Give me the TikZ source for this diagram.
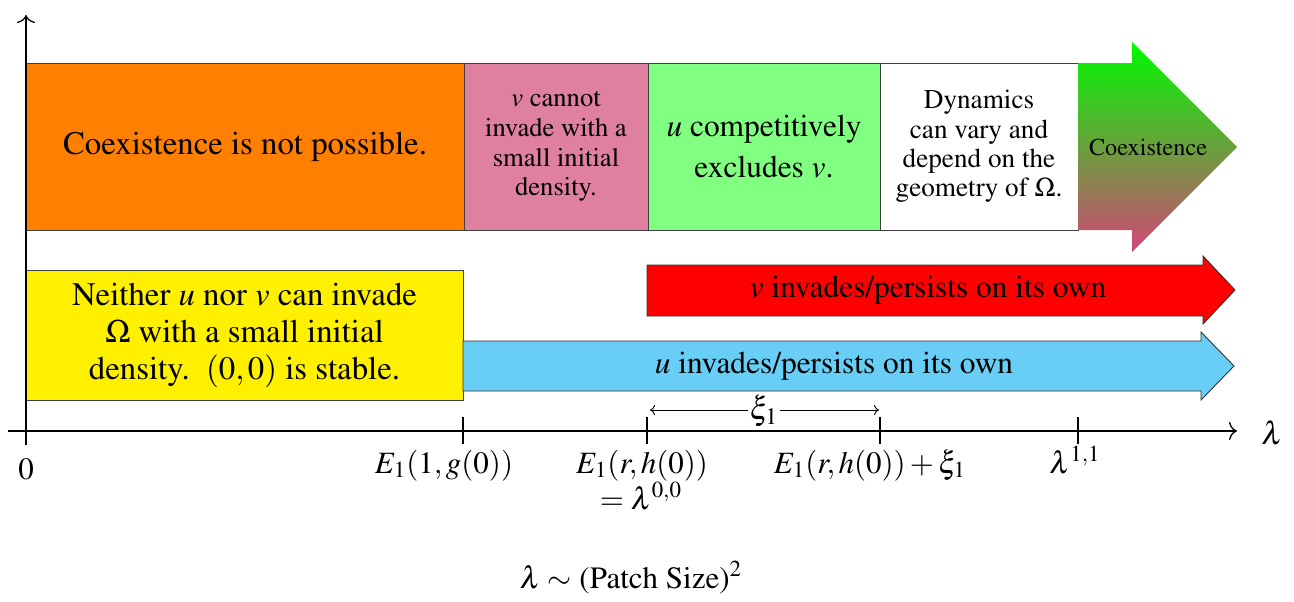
\documentclass[tikz,border=0pt]{standalone}
\usepackage[T1]{fontenc}
\usepackage{mathptmx}
\usetikzlibrary{arrows.meta}
\definecolor{orangeC}{RGB}{255,128,0}
\definecolor{pinkC}{RGB}{223,128,160}
\definecolor{greenC}{RGB}{128,255,128}
\definecolor{yellowC}{RGB}{255,240,0}
\definecolor{redC}{RGB}{255,0,0}
\definecolor{blueC}{RGB}{104,206,245}
\definecolor{gtop}{RGB}{0,250,0}
\definecolor{gbot}{RGB}{210,70,120}
\tikzset{
  box/.style={draw=black!75, line width=0.45pt, inner sep=0pt, align=center, minimum height=83.5pt},
  arrowbox/.style={draw=black!80, line width=0.45pt},
  axis/.style={line width=0.65pt, black},
  axtip/.style={-{Computer Modern Rightarrow[length=4pt,width=9pt]}},
  xitip/.style={{Computer Modern Rightarrow[length=2.5pt,width=5pt]}-{Computer Modern Rightarrow[length=2.5pt,width=5pt]}},
  ticklbl/.style={anchor=base, inner sep=0pt, font=\fontsize{15.5}{18}\selectfont},
}
\begin{document}
\begin{tikzpicture}[x=0.5pt, y=-0.5pt]
\useasboundingbox (0,0) rectangle (1294,601);

% top row
\node[box, fill=orangeC, minimum width=219pt, font=\fontsize{16.4}{20}\selectfont] (coex) at (245,146.5)
  {Coexistence is not possible.};
\node[box, fill=pinkC, minimum width=92pt, font=\fontsize{13.3}{14.9}\selectfont] (vcannot) at (556,146.5)
  {$v$ cannot\\invade with a\\small initial\\density.};
\node[box, fill=greenC, minimum width=116pt, font=\fontsize{15.7}{20.5}\selectfont] (uexcl) at (764,146.5)
  {$u$ competitively\\excludes $v$.};
\node[box, fill=white, minimum width=99pt, font=\fontsize{13.6}{14.6}\selectfont] (dyn) at (979,146.5)
  {Dynamics\\can vary and\\depend on the\\geometry of $\Omega$.};

\shade[top color=gtop, bottom color=gbot]
  (1078,63) -- (1132,63) -- (1132,42) -- (1237,147) -- (1132,252) -- (1132,230) -- (1078,230) -- cycle;
\node[inner sep=0pt, font=\fontsize{12.1}{14}\selectfont] (coexarrow) at (1148,147) {Coexistence};

% yellow box
\node[box, fill=yellowC, minimum width=218.5pt, minimum height=65pt, font=\fontsize{16.4}{18.5}\selectfont] (neither) at (244.5,335)
  {Neither $u$ nor $v$ can invade\\$\Omega$ with a small initial\\density.\ \ $(0,0)$ is stable.};

% red and blue arrows
\draw[arrowbox, fill=redC]
  (647,265) -- (1203,265) -- (1203,256) -- (1235,290) -- (1203,324) -- (1203,316) -- (647,316) -- cycle;
\node[inner sep=0pt, font=\fontsize{15.7}{18}\selectfont] (vinv) at (928,290) {$v$ invades/persists on its own};
\draw[arrowbox, fill=blueC]
  (463,341) -- (1201,341) -- (1201,332) -- (1234,366) -- (1201,400) -- (1201,391) -- (463,391) -- cycle;
\node[inner sep=0pt, font=\fontsize{15.7}{18}\selectfont] (uinv) at (834,366) {$u$ invades/persists on its own};

% axes
\coordinate (vbot) at (26,445);
\coordinate (vtop) at (26,15);
\coordinate (hl) at (8,431);
\coordinate (hr) at (1237,431);
\draw[axis, axtip] (vbot) -- (vtop);
\draw[axis, axtip] (hl) -- (hr);
\node[inner sep=0pt, font=\fontsize{16}{18}\selectfont] (lam) at (1272,433) {$\lambda$};

\foreach \x/\n in {463/a, 647/b, 880/c, 1078/d} {
  \coordinate (t\n top) at (\x,417);
  \coordinate (t\n bot) at (\x,444);
  \draw[axis] (t\n top) -- (t\n bot);
}

% xi arrow
\coordinate (xil) at (650,410);
\coordinate (xir) at (879,410);
\draw[line width=0.45pt, xitip] (xil) -- (xir);
\node[fill=white, inner sep=1pt, font=\fontsize{16}{18}\selectfont] (xi) at (764,411) {$\xi_1$};

% tick labels
\node[ticklbl] (l0) at (26,479) {$0$};
\node[ticklbl] (l1) at (444,473) {$E_1(1,g(0))$};
\node[ticklbl] (l2) at (642,473) {$E_1(r,h(0))$};
\node[ticklbl] (l2b) at (641,509) {$=\lambda^{0,0}$};
\node[ticklbl] (l3) at (870,473) {$E_1(r,h(0))+\xi_1$};
\node[ticklbl] (l4) at (1075,473) {$\lambda^{1,1}$};

\node[ticklbl] (patch) at (631,588) {$\lambda\sim$ (Patch Size)$^2$};
\end{tikzpicture}
\end{document}
